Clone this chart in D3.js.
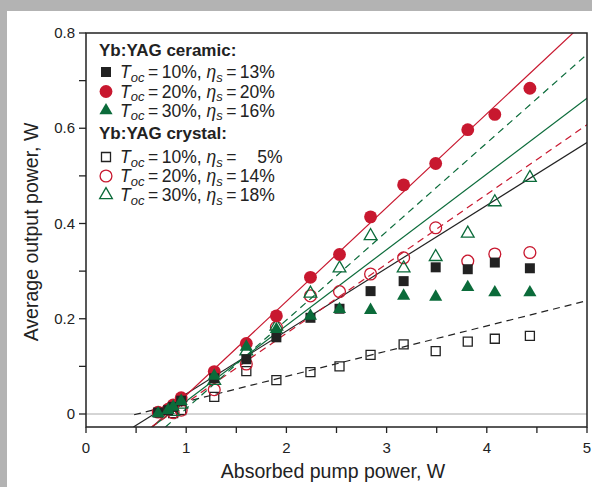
<!DOCTYPE html>
<meta charset="utf-8">
<style>
  body { margin: 0; background: #b3b3b3; }
  svg { display: block; }
  text { font-family: "Liberation Sans", Arial, sans-serif; fill: #222; }
</style>
<body>
<script src="https://cdnjs.cloudflare.com/ajax/libs/d3/7.8.5/d3.min.js"></script>
<script>
// pump power points (W), shared by all series
var pumpCeramic = [0.72, 0.82, 0.87, 0.95, 1.28, 1.60, 1.90, 2.24, 2.53, 2.84, 3.17, 3.49, 3.81, 4.08, 4.43];
var pumpCrystal = [0.87, 0.95, 1.28, 1.60, 1.90, 2.24, 2.53, 2.84, 3.17, 3.49, 3.81, 4.08, 4.43];

// output power (W)
var ceramic10 = [0.003, 0.008, 0.015, 0.028, 0.075, 0.115, 0.161, 0.202, 0.221, 0.258, 0.279, 0.308, 0.304, 0.318, 0.306];
var ceramic20 = [0.004, 0.010, 0.019, 0.034, 0.089, 0.148, 0.206, 0.287, 0.335, 0.414, 0.481, 0.526, 0.597, 0.629, 0.684];
var ceramic30 = [0.001, 0.008, 0.015, 0.027, 0.080, 0.141, 0.178, 0.206, 0.220, 0.218, 0.248, 0.246, 0.266, 0.255, 0.255];
var crystal10 = [0.002, 0.008, 0.036, 0.090, 0.071, 0.088, 0.100, 0.124, 0.146, 0.132, 0.152, 0.158, 0.164];
var crystal20 = [0.003, 0.008, 0.051, 0.105, 0.182, 0.248, 0.257, 0.294, 0.328, 0.391, 0.321, 0.336, 0.339];
var crystal30 = [0.005, 0.020, 0.070, 0.132, 0.184, 0.253, 0.306, 0.374, 0.306, 0.330, 0.379, 0.445, 0.496];

// linear fits: slope and threshold (x-intercept)
var fitSlopes     = [0.132, 0.197, 0.159, 0.053, 0.146, 0.186];
var fitThresholds = [0.68, 0.80, 0.83, 0.51, 0.84, 0.94];
var fitStarts     = [null, null, null, 0.48, null, null];

var tocLabels = ["10%", "20%", "30%", "10%", "20%", "30%"];
var etaLabels = ["13%", "20%", "16%", "\u2002\u20025%", "14%", "18%"];

var xMajor = [0, 1, 2, 3, 4, 5];
var xMinor = [0.5, 1.5, 2.5, 3.5, 4.5];
var yMajor = [0, 0.2, 0.4, 0.6, 0.8];
var yMinor = [0.1, 0.3, 0.5, 0.7];

var red = "#c8182f", green = "#0b6b3a", black = "#222";

var W = 592, H = 487;
var svg = d3.select("body").append("svg").attr("width", W).attr("height", H);
svg.append("rect").attr("width", W).attr("height", H).attr("fill", "#b3b3b3");
svg.append("rect").attr("x", 7).attr("y", 11).attr("width", W - 7).attr("height", H - 11).attr("fill", "#fff");

var plotLeft = 86, plotRight = 587, plotTop = 33, axisY = 427;
var x = d3.scaleLinear().domain([0, 5]).range([plotLeft, plotRight]);
var y = d3.scaleLinear().domain([0, 0.8]).range([414, plotTop]);
var yBottom = y.invert(axisY);

var chart = svg.append("g");

chart.append("clipPath").attr("id", "clip").append("rect")
  .attr("x", plotLeft).attr("y", plotTop).attr("width", plotRight - plotLeft).attr("height", axisY - plotTop);

// zero line
chart.append("line")
  .attr("x1", plotLeft).attr("x2", plotRight).attr("y1", y(0)).attr("y2", y(0))
  .attr("stroke", "#aaa").attr("stroke-width", 1);

// fit lines
var styles = [
  {color: black, dash: null},
  {color: red, dash: null},
  {color: green, dash: null},
  {color: black, dash: "7,5"},
  {color: red, dash: "7,5"},
  {color: green, dash: "7,5"}
];
var fits = chart.append("g").attr("clip-path", "url(#clip)");
fitSlopes.forEach(function(s, i){
  var x0 = fitStarts[i] != null ? fitStarts[i] : fitThresholds[i] + yBottom / s;
  var x1 = 5.2;
  fits.append("line")
    .attr("x1", x(x0)).attr("y1", y(s * (x0 - fitThresholds[i])))
    .attr("x2", x(x1)).attr("y2", y(s * (x1 - fitThresholds[i])))
    .attr("stroke", styles[i].color).attr("stroke-width", 1.2)
    .attr("stroke-dasharray", styles[i].dash);
});

function symbolPath(kind, filled){
  if (kind === "square") return d3.symbol().type(d3.symbolSquare).size(filled ? 100 : 81)();
  if (kind === "circle") return d3.symbol().type(d3.symbolCircle).size(filled ? 130 : 110)();
  return d3.symbol().type(d3.symbolTriangle).size(filled ? 75 : 70)();
}

var series = [
  {xs: pumpCrystal, ys: crystal10, kind: "square", color: black, filled: false},
  {xs: pumpCrystal, ys: crystal20, kind: "circle", color: red, filled: false},
  {xs: pumpCrystal, ys: crystal30, kind: "triangle", color: green, filled: false},
  {xs: pumpCeramic, ys: ceramic20, kind: "circle", color: red, filled: true},
  {xs: pumpCeramic, ys: ceramic10, kind: "square", color: black, filled: true},
  {xs: pumpCeramic, ys: ceramic30, kind: "triangle", color: green, filled: true}
];
series.forEach(function(s){
  chart.append("g").selectAll("path")
    .data(s.xs.map(function(px, i){ return [px, s.ys[i]]; }))
    .enter().append("path")
    .attr("transform", function(d){ return "translate(" + x(d[0]) + "," + y(d[1]) + ")"; })
    .attr("d", symbolPath(s.kind, s.filled))
    .attr("fill", s.filled ? s.color : "none")
    .attr("stroke", s.filled ? "none" : s.color)
    .attr("stroke-width", 1.3);
});

// frame
chart.append("rect")
  .attr("x", plotLeft).attr("y", plotTop).attr("width", plotRight - plotLeft).attr("height", axisY - plotTop)
  .attr("fill", "none").attr("stroke", "#222").attr("stroke-width", 1.5);

// ticks
xMajor.concat(xMinor).forEach(function(v){
  chart.append("line").attr("x1", x(v)).attr("x2", x(v)).attr("y1", axisY).attr("y2", axisY + 6)
    .attr("stroke", "#222").attr("stroke-width", 1.3);
});
xMajor.forEach(function(v){
  chart.append("text").attr("x", x(v)).attr("y", 453).attr("text-anchor", "middle")
    .style("font-size", "15px").text(v);
});
yMajor.concat(yMinor).forEach(function(v){
  chart.append("line").attr("x1", plotLeft - 7).attr("x2", plotLeft).attr("y1", y(v)).attr("y2", y(v))
    .attr("stroke", "#222").attr("stroke-width", 1.3);
});
yMajor.forEach(function(v){
  chart.append("text").attr("x", plotLeft - 11).attr("y", y(v) + 5).attr("text-anchor", "end")
    .style("font-size", "15px").text(v === 0 ? "0" : v.toFixed(1));
});

chart.append("text").attr("x", 333).attr("y", 478).attr("text-anchor", "middle")
  .style("font-size", "19.5px").text("Absorbed pump power, W");
chart.append("text").attr("transform", "translate(38,232) rotate(-90)").attr("text-anchor", "middle")
  .style("font-size", "19.5px").text("Average output power, W");

// legend
var legend = svg.append("g");
var headers = [{t: "Yb:YAG ceramic:", y: 56}, {t: "Yb:YAG crystal:", y: 139}];
headers.forEach(function(h){
  legend.append("text").attr("x", 99).attr("y", h.y).style("font-size", "17px")
    .style("font-weight", "bold").text(h.t);
});
var rowY = [72, 91.5, 110.5, 157, 176, 195];
var legendOrder = [
  {kind: "square", color: black, filled: true},
  {kind: "circle", color: red, filled: true},
  {kind: "triangle", color: green, filled: true},
  {kind: "square", color: black, filled: false},
  {kind: "circle", color: red, filled: false},
  {kind: "triangle", color: green, filled: false}
];
legendOrder.forEach(function(m, i){
  legend.append("path").attr("transform", "translate(106," + rowY[i] + ")")
    .attr("d", symbolPath(m.kind, m.filled))
    .attr("fill", m.filled ? m.color : "none")
    .attr("stroke", m.filled ? "none" : m.color).attr("stroke-width", 1.3);

  var t = legend.append("text").attr("x", 120).attr("y", rowY[i] + 6).style("font-size", "17.5px");
  t.append("tspan").style("font-style", "italic").text("T");
  t.append("tspan").style("font-style", "italic").style("font-size", "13px").attr("dy", 3.5).text("oc");
  t.append("tspan").attr("dy", -3.5).text("\u2009=\u2009" + tocLabels[i] + ", ");
  t.append("tspan").style("font-style", "italic").text("\u03b7");
  t.append("tspan").style("font-style", "italic").style("font-size", "13px").attr("dy", 3.5).text("s");
  t.append("tspan").attr("dy", -3.5).text("\u2009=\u2009" + etaLabels[i]);
});
</script>
</body>
